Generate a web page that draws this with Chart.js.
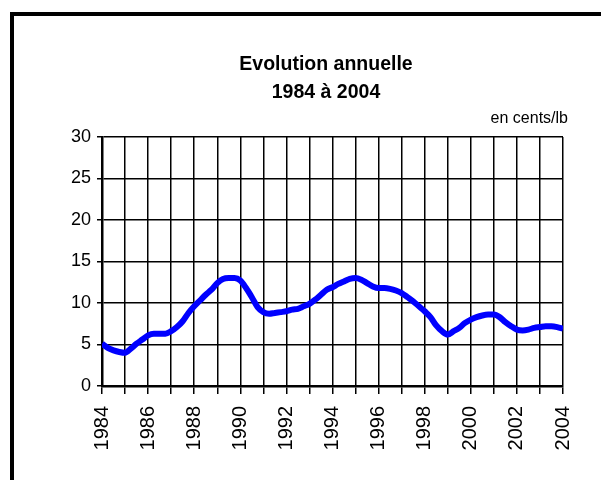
<!DOCTYPE html>
<html lang="fr">
<head>
<meta charset="utf-8">
<title>Evolution annuelle 1984 à 2004</title>
<script src="https://cdn.jsdelivr.net/npm/chart.js@4/dist/chart.umd.min.js"></script>
<style>
  html, body { margin:0; padding:0; background:#fff; overflow:hidden; }
  #frame {
    position:absolute; left:10px; top:12px; width:800px; height:700px;
    border-left:4px solid #000; border-top:4px solid #000;
  }
  #wrap { position:absolute; left:0; top:0; width:601px; height:480px; }
</style>
</head>
<body>
<div id="frame"></div>
<div id="wrap"><canvas id="chart" width="601" height="480"></canvas></div>
<script>
// cours trimestriels, en cents/lb
const periods = [
  1984.00, 1984.25, 1984.50, 1984.75,
  1985.00, 1985.25, 1985.50, 1985.75,
  1986.00, 1986.25, 1986.50, 1986.75,
  1987.00, 1987.25, 1987.50, 1987.75,
  1988.00, 1988.25, 1988.50, 1988.75,
  1989.00, 1989.25, 1989.50, 1989.75,
  1990.00, 1990.25, 1990.50, 1990.75,
  1991.00, 1991.25, 1991.50, 1991.75,
  1992.00, 1992.25, 1992.50, 1992.75,
  1993.00, 1993.25, 1993.50, 1993.75,
  1994.00, 1994.25, 1994.50, 1994.75,
  1995.00, 1995.25, 1995.50, 1995.75,
  1996.00, 1996.25, 1996.50, 1996.75,
  1997.00, 1997.25, 1997.50, 1997.75,
  1998.00, 1998.25, 1998.50, 1998.75,
  1999.00, 1999.25, 1999.50, 1999.75,
  2000.00, 2000.25, 2000.50, 2000.75,
  2001.00, 2001.25, 2001.50, 2001.75,
  2002.00, 2002.25, 2002.50, 2002.75,
  2003.00, 2003.25, 2003.50, 2003.75,
  2004.00
];
const prix = [
  5.1, 4.6, 4.3, 4.1,
  4.0, 4.5, 5.1, 5.6,
  6.1, 6.3, 6.3, 6.3,
  6.6, 7.1, 7.8, 8.8,
  9.6, 10.3, 11.0, 11.6,
  12.4, 12.9, 13.0, 13.0,
  12.7, 11.8, 10.7, 9.5,
  8.9, 8.7, 8.8, 8.9,
  9.0, 9.2, 9.3, 9.6,
  9.9, 10.4, 11.0, 11.6,
  11.9, 12.3, 12.6, 12.9,
  13.0, 12.8, 12.4, 12.0,
  11.8, 11.8, 11.7, 11.5,
  11.2, 10.7, 10.2, 9.6,
  9.0, 8.3, 7.3, 6.6,
  6.2, 6.6, 7.0, 7.6,
  8.0, 8.3, 8.5, 8.6,
  8.6, 8.3, 7.7, 7.2,
  6.8, 6.7, 6.8, 7.0,
  7.1, 7.2, 7.2, 7.1,
  6.9
];
const labelYears = [1984, 1986, 1988, 1990, 1992, 1994, 1996, 1998, 2000, 2002, 2004];
const titre = ['Evolution annuelle', '1984 à 2004'];
const unite = 'en cents/lb';

const FONT = "'Liberation Sans', Arial, sans-serif";

// titre sur deux lignes + unité au-dessus du coin droit de la zone de tracé
const entete = {
  id: 'entete',
  afterDraw(chart) {
    const { ctx, chartArea } = chart;
    ctx.save();
    ctx.fillStyle = '#000';
    ctx.textBaseline = 'alphabetic';
    ctx.textAlign = 'center';
    ctx.font = `bold 19.5px ${FONT}`;
    ctx.fillText(titre[0], 326, 70);
    ctx.fillText(titre[1], 326, 98);
    ctx.textAlign = 'right';
    ctx.font = `16px ${FONT}`;
    ctx.fillText(unite, chartArea.right + 5, chartArea.top - 14);
    ctx.restore();
  }
};

new Chart(document.getElementById('chart'), {
  type: 'line',
  data: {
    datasets: [{
      data: periods.map((x, i) => ({ x, y: prix[i] })),
      borderColor: '#0000ff',
      borderWidth: 6,
      pointRadius: 0,
      tension: 0.4,
      cubicInterpolationMode: 'monotone',
      fill: false
    }]
  },
  options: {
    responsive: false,
    animation: false,
    layout: { padding: { top: 137, right: 38, bottom: 0, left: 0 } },
    plugins: {
      legend: { display: false },
      tooltip: { enabled: false }
    },
    scales: {
      x: {
        type: 'linear',
        min: 1984, max: 2004,
        afterFit: (s) => { s.height = 94; },
        border: { display: true, color: '#000', width: 2.5 },
        grid: { color: '#000', lineWidth: 1.5, drawTicks: true, tickLength: 8 },
        ticks: {
          stepSize: 1, autoSkip: false,
          minRotation: 90, maxRotation: 90,
          padding: 12,
          color: '#000',
          font: { family: FONT, size: 20 },
          callback: (v) => labelYears.includes(v) ? String(v) : ''
        }
      },
      y: {
        min: 0, max: 30,
        afterFit: (s) => { s.width = 102; },
        border: { display: true, color: '#000', width: 2.5 },
        grid: { color: '#000', lineWidth: 1.5, drawTicks: true, tickLength: 5 },
        ticks: {
          stepSize: 5,
          padding: 6,
          color: '#000',
          font: { family: FONT, size: 18 }
        }
      }
    }
  },
  plugins: [entete]
});
</script>
</body>
</html>
